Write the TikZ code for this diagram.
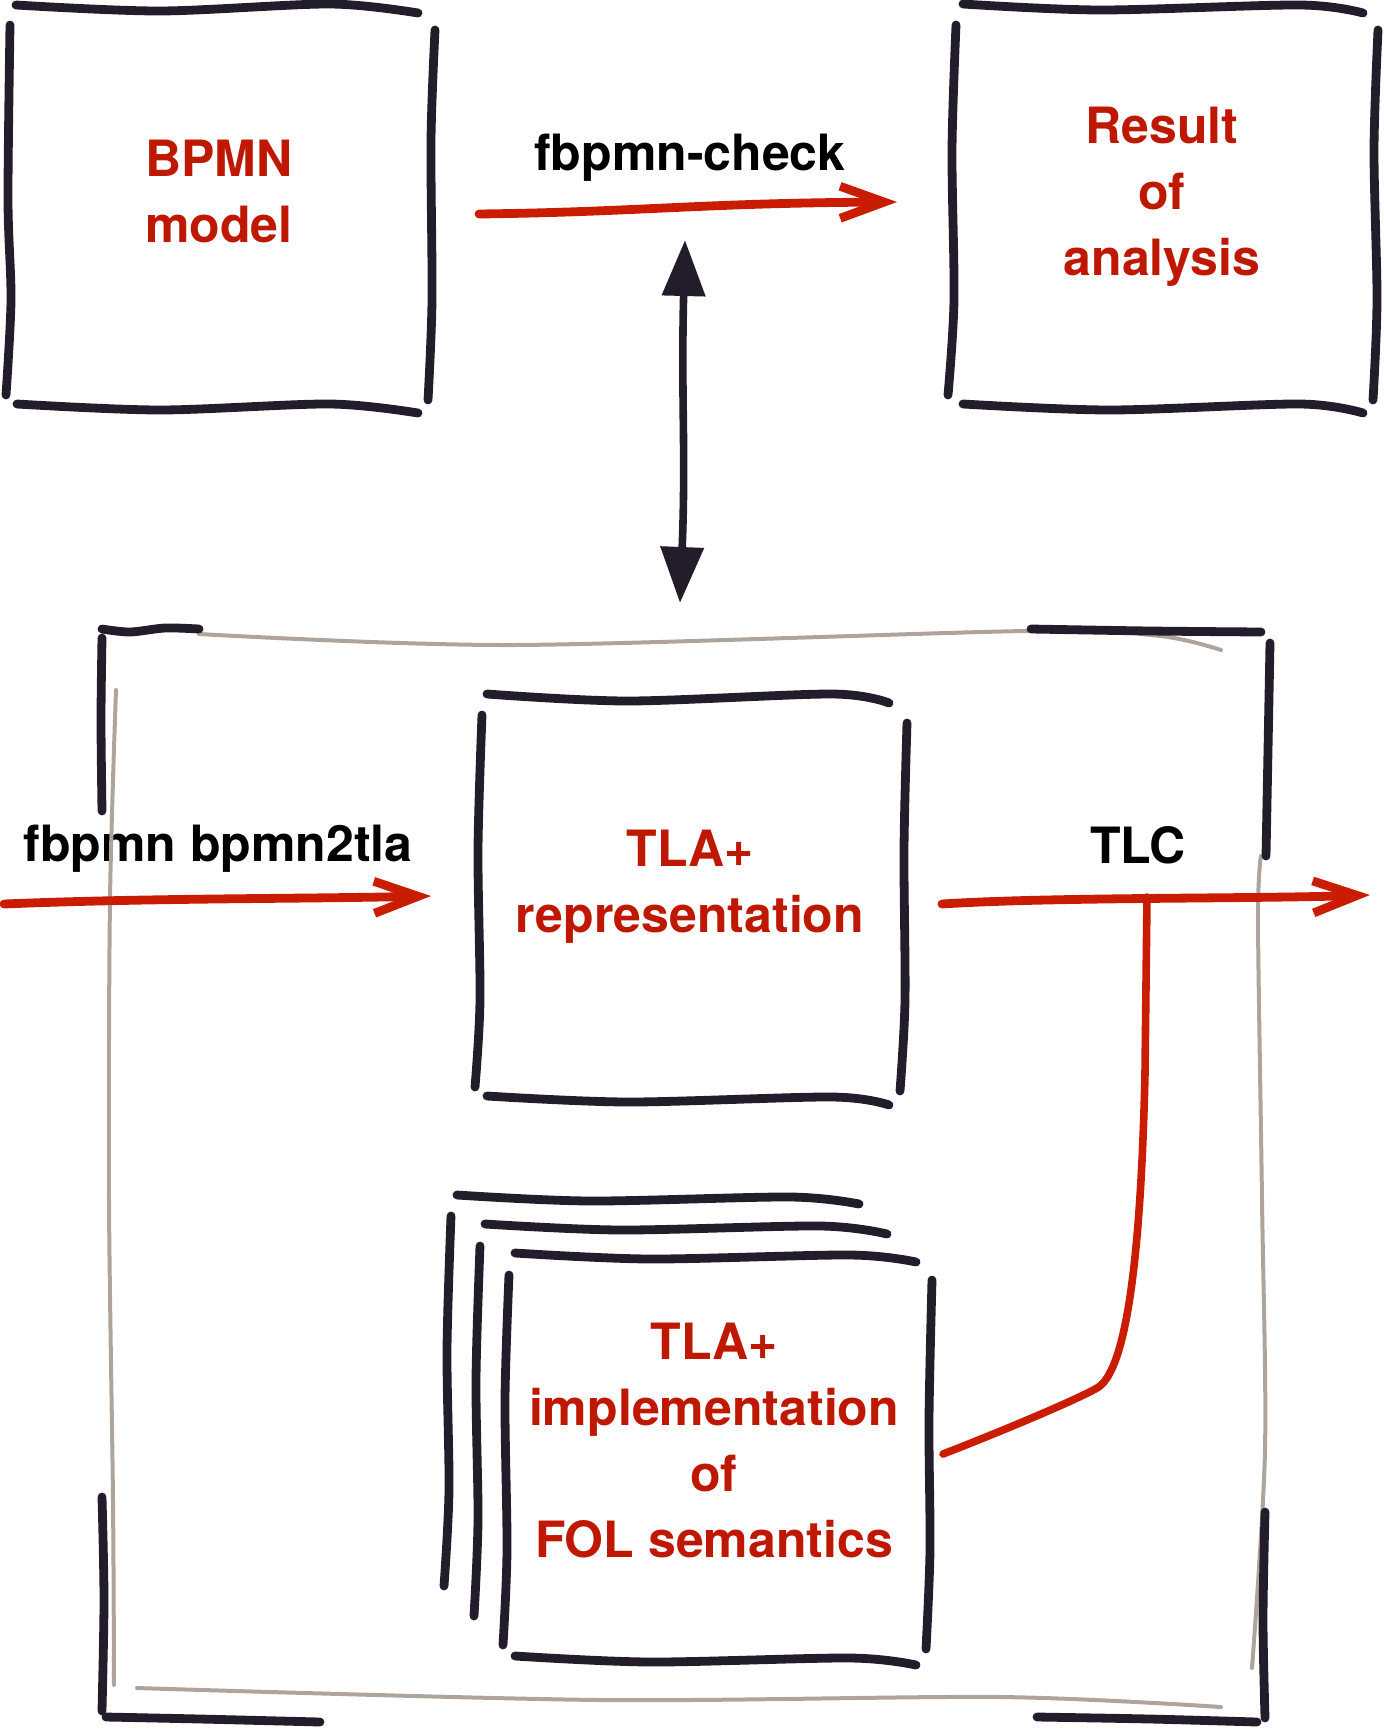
\documentclass[tikz,border=0pt]{standalone}
\usepackage{fontspec}
\setmainfont{TeX Gyre Heros}
\usetikzlibrary{arrows.meta}
\definecolor{ink}{HTML}{221C2B}
\definecolor{pencil}{HTML}{AFA49B}
\definecolor{arrowred}{HTML}{CA1C00}
\definecolor{textred}{HTML}{BE1800}
\tikzset{
	sketch/.style={draw=ink, line width=4.4pt, line cap=round, line join=round},
	faint/.style={draw=pencil, line width=2pt, line cap=round},
	flow/.style={draw=arrowred, line width=4.4pt, line cap=round, -{Straight Barb[length=22pt,width=16pt]}},
	title/.style={text=textred, align=center, inner sep=0pt},
	label/.style={text=black, inner sep=0pt, anchor=base}
}
\begin{document}
\begin{tikzpicture}[x=0.5pt, y=-0.5pt]
		\useasboundingbox (0,0) rectangle (1383,1729);
		\begin{scope}[every node/.append style={font=\bfseries\fontsize{25}{33}\selectfont}]
			\node[title] (bpmn) at (219, 191.5) {BPMN\\model};
			\node[title] (result) at (1162, 196.5) {Result\\of\\analysis};
			\node[title] (tlarep) at (690, 886.5) {TLA+\\representation};
			\node[title] (folsem) at (714, 1440.5) {TLA+\\implementation\\of\\FOL semantics};
			\node[label] (check) at (690, 170) {fbpmn-check};
			\node[label] (totla) at (218, 861) {fbpmn bpmn2tla};
			\node[label] (tlc) at (1138, 863) {TLC};
		\end{scope}

		% BPMN model box
		\draw[sketch] plot[smooth] coordinates {(16,5) (160,11) (330,4) (418,13)};
		\draw[sketch] plot[smooth] coordinates {(10,25) (8,200) (11,300) (6,395)};
		\draw[sketch] plot[smooth] coordinates {(435,30) (431,140) (432,300) (428,400)};
		\draw[sketch] plot[smooth] coordinates {(17,404) (160,410) (330,404) (418,413)};

		% result box
		\draw[sketch] plot[smooth] coordinates {(963,4) (1100,10) (1300,5) (1363,13)};
		\draw[sketch] plot[smooth] coordinates {(956,25) (952,150) (954,300) (948,395)};
		\draw[sketch] plot[smooth] coordinates {(1378,30) (1374,150) (1377,300) (1373,400)};
		\draw[sketch] plot[smooth] coordinates {(963,404) (1110,410) (1300,404) (1363,413)};

		% outer frame
		\draw[faint] plot[smooth] coordinates {(199,634) (513,645) (1027,631) (1160,636) (1221,650)};
		\draw[faint] plot[smooth] coordinates {(116,690) (110,900) (109,1200) (113,1500) (114,1685)};
		\draw[faint] plot[smooth] coordinates {(1261,856) (1258,920) (1262,1200) (1265,1450) (1252,1668)};
		\draw[faint] plot[smooth] coordinates {(137,1688) (600,1700) (1000,1697) (1221,1707)};
		\draw[sketch] plot[smooth] coordinates {(102,629) (130,632) (165,628) (199,629)};
		\draw[sketch] plot[smooth] coordinates {(1031,629) (1150,631) (1261,632)};
		\draw[sketch] plot[smooth] coordinates {(102,638) (101,720) (102,811)};
		\draw[sketch] plot[smooth] coordinates {(102,1497) (104,1600) (102,1711)};
		\draw[sketch] plot[smooth] coordinates {(106,1717) (200,1719) (320,1722)};
		\draw[sketch] plot[smooth] coordinates {(1037,1717) (1150,1719) (1257,1722)};
		\draw[sketch] plot[smooth] coordinates {(1270,643) (1268,750) (1266,856)};
		\draw[sketch] plot[smooth] coordinates {(1265,1512) (1263,1620) (1265,1718)};

		% TLA+ representation box
		\draw[sketch] plot[smooth] coordinates {(487,694) (628,701) (832,694) (889,703)};
		\draw[sketch] plot[smooth] coordinates {(482,715) (478,850) (480,1000) (475,1087)};
		\draw[sketch] plot[smooth] coordinates {(907,723) (904,850) (905,1000) (900,1091)};
		\draw[sketch] plot[smooth] coordinates {(487,1096) (628,1102) (832,1097) (889,1105)};

		% stacked FOL semantics boxes
		\draw[sketch] plot[smooth] coordinates {(457,1195) (590,1201) (790,1197) (859,1204)};
		\draw[sketch] plot[smooth] coordinates {(451,1216) (447,1350) (449,1490) (444,1586)};
		\draw[sketch] plot[smooth] coordinates {(485,1224) (620,1230) (820,1226) (887,1234)};
		\draw[sketch] plot[smooth] coordinates {(480,1246) (476,1380) (478,1520) (474,1616)};
		\draw[sketch] plot[smooth] coordinates {(515,1253) (650,1259) (850,1255) (916,1262)};
		\draw[sketch] plot[smooth] coordinates {(509,1275) (505,1400) (507,1550) (503,1645)};
		\draw[sketch] plot[smooth] coordinates {(932,1280) (929,1420) (930,1550) (926,1649)};
		\draw[sketch] plot[smooth] coordinates {(515,1656) (650,1662) (850,1658) (916,1665)};

		\coordinate (check-s) at (479,214);
		\coordinate (check-e) at (897,202);
		\coordinate (tool-t) at (685,240);
		\coordinate (tool-b) at (680,603);
		\coordinate (totla-s) at (4,904);
		\coordinate (totla-e) at (431,896);
		\coordinate (tlc-s) at (942,904);
		\coordinate (tlc-e) at (1370,895);
		\coordinate (fork) at (1147,897);
		\coordinate (bend) at (1097,1388);
		\coordinate (sem) at (943,1454);

		\draw[flow] (check-s) .. controls (640,212) and (700,203) .. (check-e);
		\draw[flow] (totla-s) .. controls (150,898) and (300,899) .. (totla-e);
		\draw[flow] (tlc-s) .. controls (1050,897) and (1250,899) .. (tlc-e);
		\draw[draw=arrowred, line width=3.8pt, line cap=round] (fork) -- (1145,1073) .. controls (1140,1300) and (1120,1375) .. (bend) .. controls (1080,1398) and (1010,1428) .. (sem);
		\draw[draw=ink, line width=3.8pt, {Triangle[length=28pt,width=21pt]}-{Triangle[length=28pt,width=21pt]}] (tool-t) .. controls (681,400) and (686,450) .. (tool-b);
	\end{tikzpicture}
\end{document}
